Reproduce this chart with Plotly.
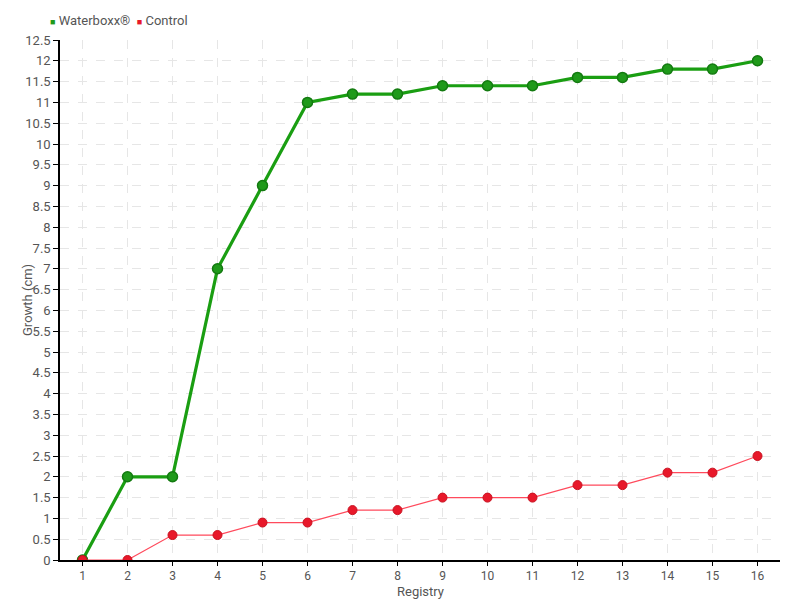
import plotly.graph_objects as go

registry = list(range(1, 17))
waterboxx = [0, 2, 2, 7, 9, 11, 11.2, 11.2, 11.4, 11.4, 11.4, 11.6, 11.6, 11.8, 11.8, 12]
control = [0, 0, 0.6, 0.6, 0.9, 0.9, 1.2, 1.2, 1.5, 1.5, 1.5, 1.8, 1.8, 2.1, 2.1, 2.5]
series_names = ["Waterboxx®", "Control"]

FONT = "Roboto, sans-serif"
GREEN = "#1f9a1a"
RED = "#e8182a"
TXT = "#555555"

fig = go.Figure()
fig.add_trace(go.Scatter(
    x=registry, y=waterboxx, name=series_names[0], mode="lines+markers",
    line=dict(color="#1a9e12", width=3.2), showlegend=False,
    marker=dict(size=10, color=GREEN, line=dict(color="#137a10", width=1.5)),
))
fig.add_trace(go.Scatter(
    x=registry, y=control, name=series_names[1], mode="lines+markers",
    line=dict(color="#ff4a5c", width=1.2), showlegend=False,
    marker=dict(size=9, color=RED, line=dict(color="#c8101f", width=1)),
))

legend_text = "  ".join(
    f"<span style='color:{c};font-size:9px'>■</span> {n}"
    for n, c in zip(series_names, [GREEN, RED])
)
fig.add_annotation(
    xref="paper", yref="paper", x=-12 / 720, y=1 + 10 / 520,
    xanchor="left", yanchor="bottom", showarrow=False,
    text=legend_text, font=dict(size=13, color=TXT, family=FONT),
)
# axis titles
fig.add_annotation(
    xref="paper", yref="paper", x=0.5, y=-31 / 520,
    xanchor="center", yanchor="middle", showarrow=False,
    text="Registry", font=dict(size=13, color=TXT, family=FONT),
)
fig.add_annotation(
    xref="paper", yref="paper", x=-33 / 720, y=0.5,
    xanchor="center", yanchor="middle", showarrow=False, textangle=-90,
    text="Growth (cm)", font=dict(size=13, color=TXT, family=FONT),
)

fig.update_layout(
    width=800, height=600,
    margin=dict(l=60, r=20, t=40, b=40, autoexpand=False),
    paper_bgcolor="white", plot_bgcolor="white",
    font=dict(family=FONT, size=13, color=TXT),
    showlegend=False,
    xaxis=dict(
        range=[0.5, 16.5], tickmode="array", tickvals=registry,
        ticks="outside", ticklen=4, tickcolor="black",
        tickfont=dict(size=12),
        showline=True, linecolor="black", linewidth=1.5,
        showgrid=True, gridcolor="#e6e6e6", griddash="dash", gridwidth=1,
        zeroline=False, automargin=False,
    ),
    yaxis=dict(
        range=[0, 12.5], tickmode="linear", tick0=0, dtick=0.5,
        ticks="outside", ticklen=5, tickcolor="black",
        showline=True, linecolor="black", linewidth=1.5,
        showgrid=True, gridcolor="#e6e6e6", griddash="dash", gridwidth=1,
        zeroline=False, automargin=False,
    ),
)
fig.write_html(
    "out.html",
    config={"displayModeBar": False},
    post_script="document.body.style.margin='0';document.body.style.overflow='hidden';",
)
